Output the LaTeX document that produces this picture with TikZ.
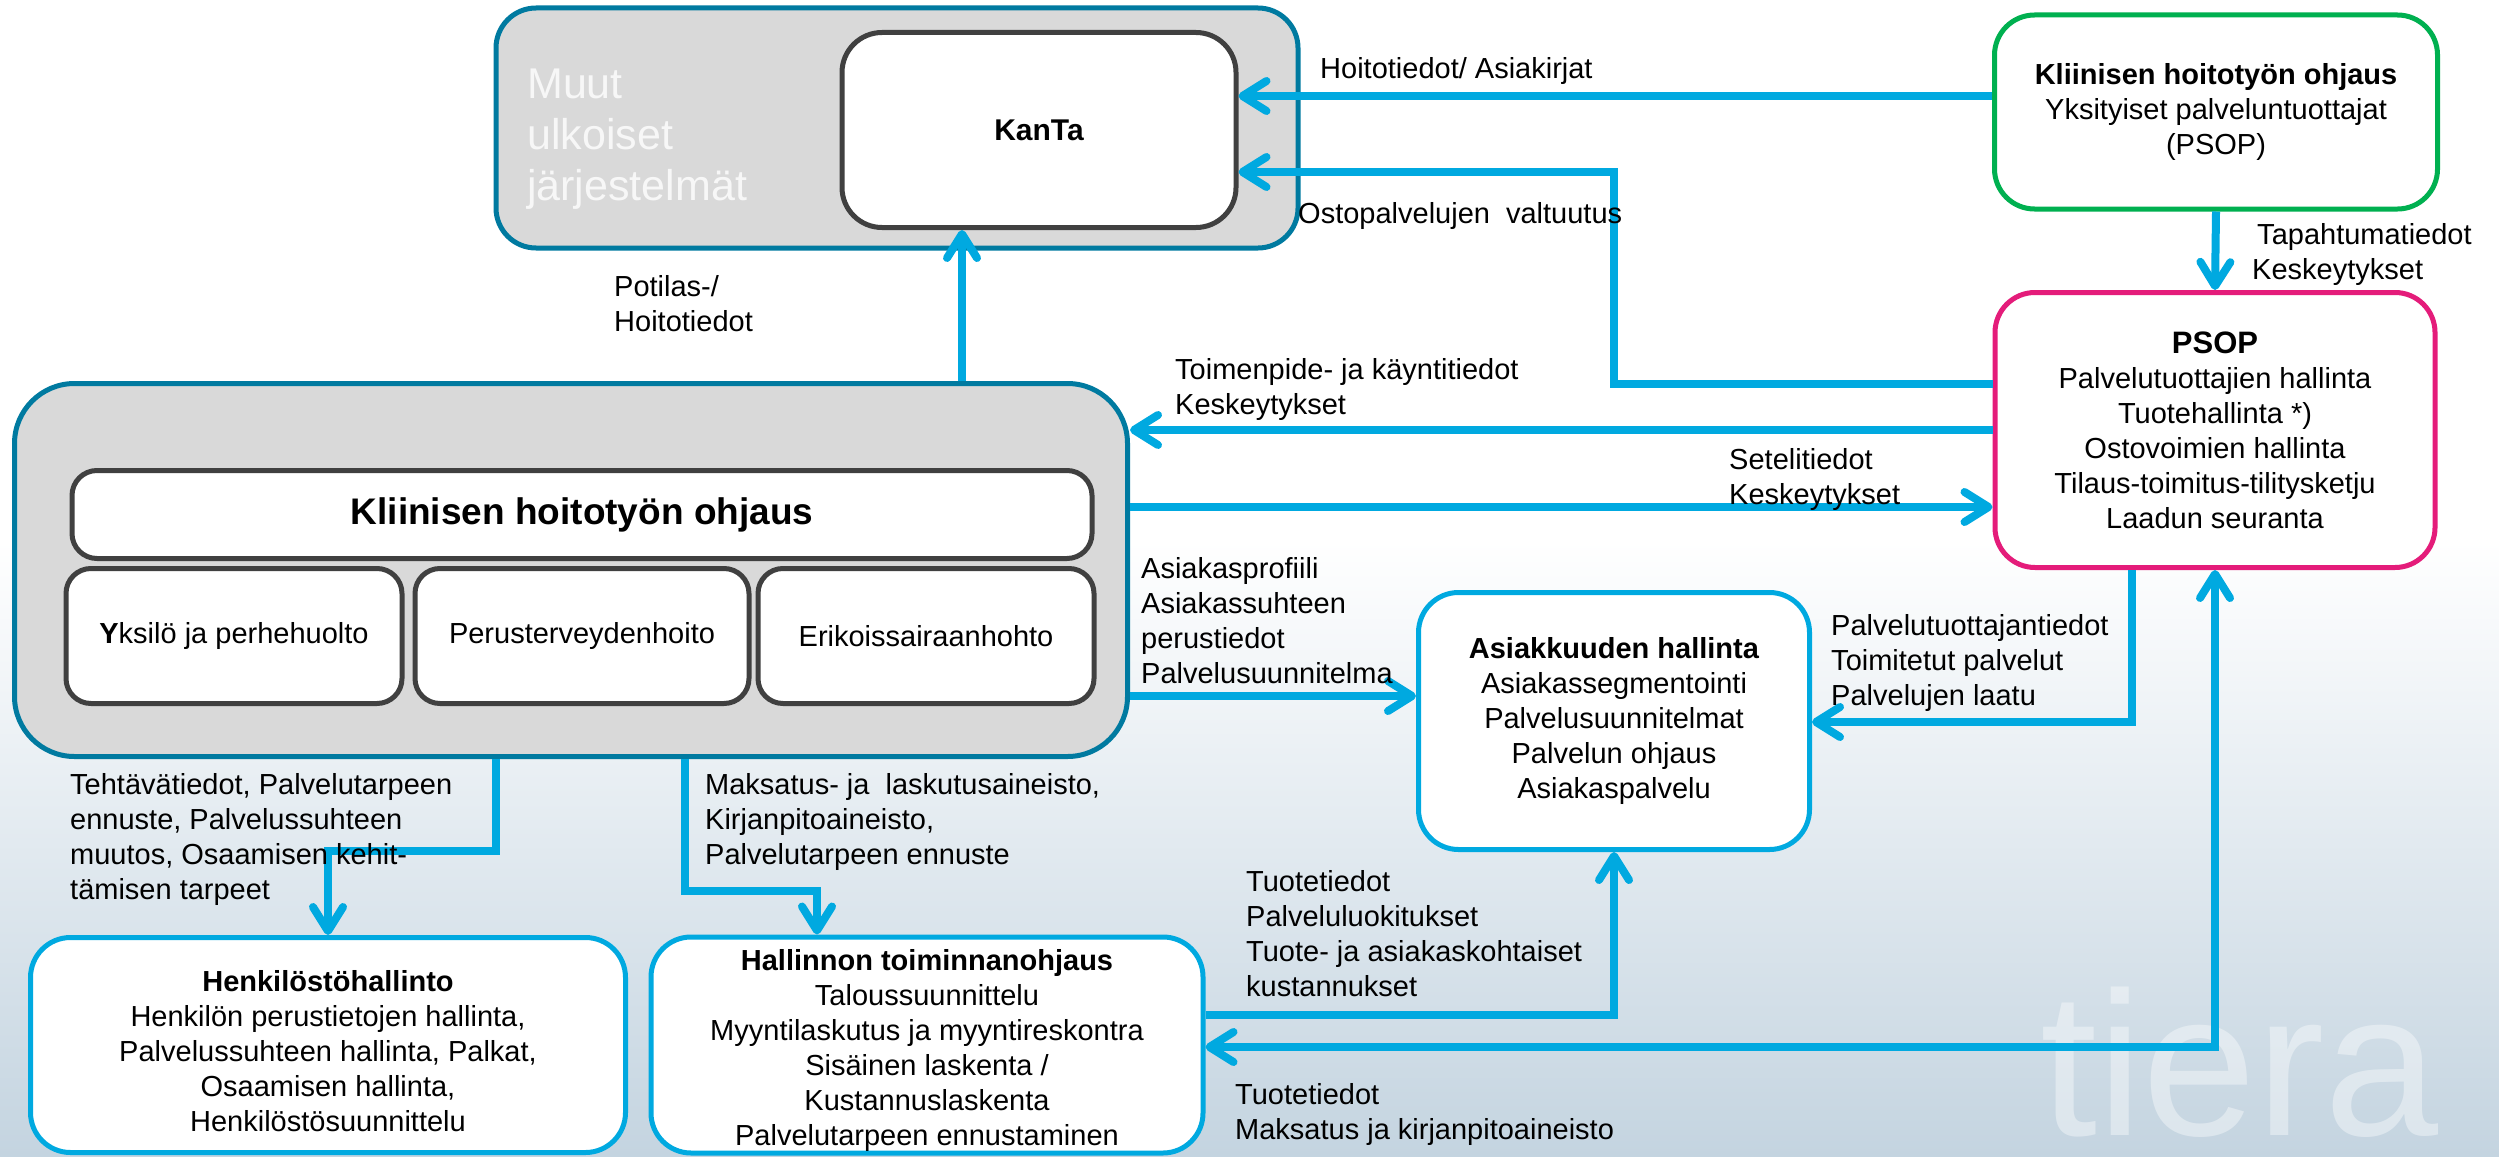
\documentclass[tikz,border=0pt]{standalone}
\usepackage{fontspec}
\setmainfont{Liberation Sans}
\usetikzlibrary{arrows.meta,positioning}
\definecolor{flowblue}{RGB}{0,169,224}
\definecolor{tealedge}{RGB}{0,122,160}
\definecolor{boxgray}{RGB}{217,217,217}
\definecolor{edgegray}{RGB}{64,64,64}
\definecolor{psopgreen}{RGB}{0,176,80}
\definecolor{psopred}{RGB}{228,28,122}
\definecolor{bgblue}{RGB}{196,212,224}
\begin{document}
\begin{tikzpicture}[x=1pt, y=-1pt,
  every node/.style={font=\fontsize{29}{35}\selectfont, align=center},
  box/.style={draw, line width=5pt, rounded corners=40pt, fill=white, inner sep=0pt},
  outer/.style={box, draw=tealedge, fill=boxgray},
  inner/.style={box, draw=edgegray, rounded corners=25pt},
  sys/.style={box, draw=flowblue},
  lbl/.style={anchor=north west, inner sep=0pt, align=left},
  flow/.style={draw=flowblue, line width=8pt, -{Straight Barb[length=24pt,width=30pt,round]}},
  flow2/.style={flow, {Straight Barb[length=24pt,width=30pt,round]}-{Straight Barb[length=24pt,width=30pt,round]}}]
  \fill[white] (0,0) rectangle (2499,1156);
  \shade[top color=white, bottom color=bgblue] (0,540) rectangle (2499,1156);
  \node[text=white, opacity=.4, font=\fontsize{205}{205}\selectfont, anchor=base west, inner sep=0pt] (wm) at (2040,1135) {tiera};
  \useasboundingbox (0,0) rectangle (2499,1156);

  \node[outer, minimum width=802pt, minimum height=240pt] (Muut) at (897,128) {};
  \node[lbl, text=white!94!gray, font=\fontsize{43}{51}\selectfont] (MuutT) at (527,69) {Muut\\ulkoiset\\järjestelmät};
  \node[inner, rounded corners=40pt, minimum width=394pt, minimum height=195pt, font=\fontsize{30}{36}\selectfont\bfseries] (KanTa) at (1039,130) {KanTa};
  \node[box, draw=psopgreen, minimum width=443pt, minimum height=194pt] (YP) at (2216,112) {\textbf{Kliinisen hoitotyön ohjaus}\\Yksityiset palveluntuottajat\\(PSOP)};
  \node[box, draw=psopred, minimum width=440pt, minimum height=275pt] (PSOP) at (2215,430) {{\fontsize{31}{35}\selectfont\textbf{PSOP}}\\Palvelutuottajien hallinta\\Tuotehallinta *)\\Ostovoimien hallinta\\Tilaus-toimitus-tilitysketju\\Laadun seuranta};

  \node[outer, rounded corners=60pt, minimum width=1113pt, minimum height=373pt] (KHO) at (571,570) {};
  \node[inner, minimum width=336pt, minimum height=135pt] (YPH) at (234,636) {\textbf{Y}ksilö ja perhehuolto};
  \node[inner, minimum width=334pt, minimum height=135pt, right=8pt of YPH] (PTH) {Perusterveydenhoito};
  \node[inner, minimum width=336pt, minimum height=135pt, right=4pt of PTH] (ESH) {Erikoissairaanhohto};
  \node[inner, minimum width=1020pt, minimum height=88pt, above=5pt of PTH, font=\fontsize{37}{40}\selectfont\bfseries] (KHOt) {Kliinisen hoitotyön ohjaus};

  \node[sys, minimum width=391pt, minimum height=257pt] (AH) at (1614,721) {\textbf{Asiakkuuden hallinta}\\Asiakassegmentointi\\Palvelusuunnitelmat\\Palvelun ohjaus\\Asiakaspalvelu};
  \node[sys, minimum width=595pt, minimum height=215pt] (HH) at (328,1045) {\rule{0pt}{33pt}\textbf{Henkilöstöhallinto}\\Henkilön perustietojen hallinta,\\Palvelussuhteen hallinta, Palkat,\\Osaamisen hallinta,\\Henkilöstösuunnittelu};
  \node[sys, minimum width=552pt, minimum height=216pt] (HT) at (927,1045) {\rule{0pt}{31pt}\textbf{Hallinnon toiminnanohjaus}\\Taloussuunnittelu\\Myyntilaskutus ja myyntireskontra\\Sisäinen laskenta /\\Kustannuslaskenta\\Palvelutarpeen ennustaminen};

  \coordinate (r1) at (0,96);
  \coordinate (c2) at (1614,172);
  \coordinate (c2a) at (1614,384);
  \coordinate (r3) at (0,430);
  \coordinate (r4) at (0,507);
  \coordinate (r5) at (0,696);
  \coordinate (c6) at (2132,722);
  \coordinate (c8) at (962,0);
  \coordinate (c9) at (496,851);
  \coordinate (c10) at (685,891);
  \coordinate (c10b) at (817,0);
  \coordinate (r11) at (0,1015);
  \coordinate (r12) at (0,1047);

  \draw[flow] (YP.west |- r1) -- (KanTa.east |- r1);
  \draw[flow] (PSOP.west |- c2a) -| (c2) -- (KanTa.east |- c2);
  \draw[flow] (PSOP.west |- r3) -- (KHO.east |- r3);
  \draw[flow] (KHO.east |- r4) -- (PSOP.west |- r4);
  \draw[flow] (KHO.east |- r5) -- (AH.west |- r5);
  \draw[flow] (PSOP.south -| c6) -- (c6) -- (AH.east |- c6);
  \draw[flow] (YP.south) -- (PSOP.north);
  \draw[flow] (KHO.north -| c8) -- (KanTa.south -| c8);
  \draw[flow] (KHO.south -| c9) -- (c9) -| (HH.north);
  \draw[flow] (KHO.south -| c10) -- (c10) -| (HT.north -| c10b);
  \draw[flow] (HT.east |- r11) -| (AH.south);
  \draw[flow2] (HT.east |- r12) -| (PSOP.south);

  \node[lbl] (l1) at (1320,57) {Hoitotiedot/ Asiakirjat};
  \node[lbl] (l2) at (1298,202) {Ostopalvelujen\ \ valtuutus};
  \node[lbl] (l3) at (614,275) {Potilas-/\\Hoitotiedot};
  \node[lbl] (l4) at (1175,358) {Toimenpide- ja käyntitiedot\\Keskeytykset};
  \node[lbl] (l5) at (1729,448) {Setelitiedot\\Keskeytykset};
  \node[lbl] (l6) at (2252,223) {\hspace{5pt}Tapahtumatiedot\\Keskeytykset};
  \node[lbl] (l7) at (1141,557) {Asiakasprofiili\\Asiakassuhteen\\perustiedot\\Palvelusuunnitelma};
  \node[lbl] (l8) at (1831,614) {Palvelutuottajantiedot\\Toimitetut palvelut\\Palvelujen laatu};
  \node[lbl] (l9) at (70,773) {Tehtävätiedot, Palvelutarpeen\\ennuste, Palvelussuhteen\\muutos, Osaamisen kehit-\\tämisen tarpeet};
  \node[lbl] (l10) at (705,773) {Maksatus- ja\ \ laskutusaineisto,\\Kirjanpitoaineisto,\\Palvelutarpeen ennuste};
  \node[lbl] (l11) at (1246,870) {Tuotetiedot\\Palveluluokitukset\\Tuote- ja asiakaskohtaiset\\kustannukset};
  \node[lbl] (l12) at (1235,1083) {Tuotetiedot\\Maksatus ja kirjanpitoaineisto};
\end{tikzpicture}
\end{document}
